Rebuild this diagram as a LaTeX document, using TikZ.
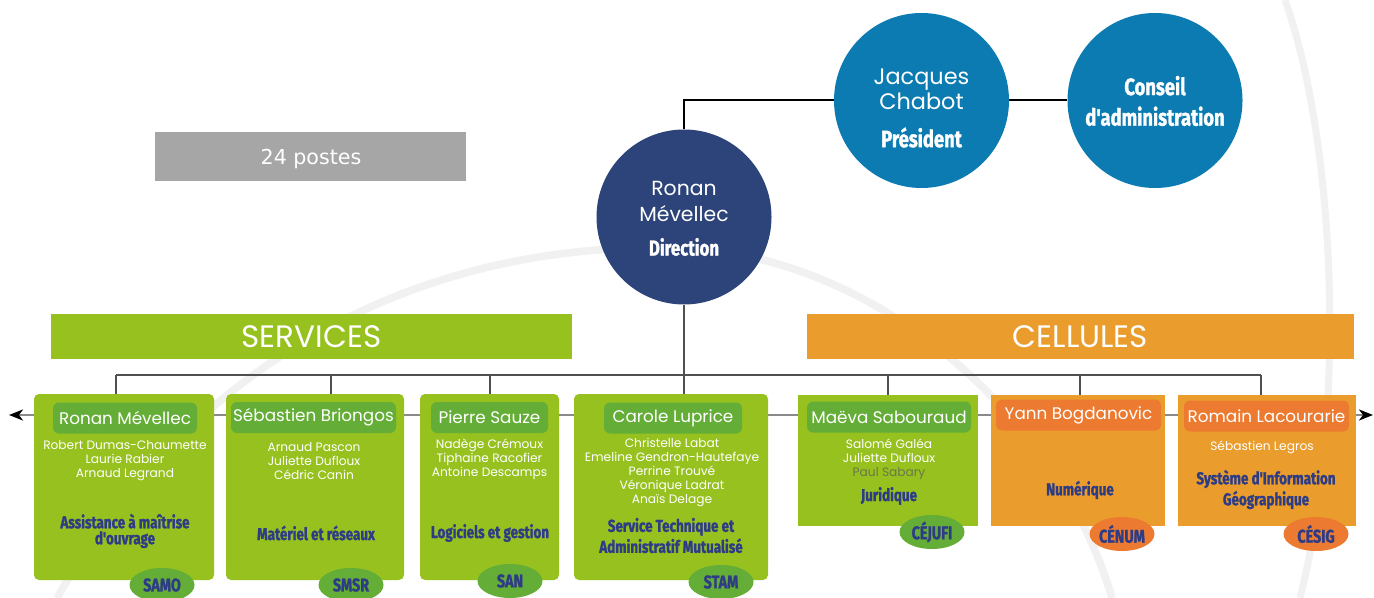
\documentclass[tikz,border=0pt]{standalone}
\usepackage{fontspec}
\setmainfont{Poppins}
\newfontfamily\cond[FakeStretch=0.78, FakeBold=1.3]{Fira Sans}
\newfontfamily\verd{DejaVu Sans}
\usetikzlibrary{shapes.geometric,arrows.meta,backgrounds}
\definecolor{cgreen}{HTML}{96C11F}
\definecolor{cdgreen}{HTML}{64AE37}
\definecolor{corange}{HTML}{EA9D2C}
\definecolor{cdorange}{HTML}{EC7B31}
\definecolor{cnavy}{HTML}{2E3C86}
\definecolor{cdir}{HTML}{2C4479}
\definecolor{cblue}{HTML}{0C7BB1}
\definecolor{cgray}{HTML}{A6A6A6}
\definecolor{cwm}{HTML}{F1F1F1}
\definecolor{cpaul}{HTML}{6A7848}
\definecolor{cbus}{HTML}{505050}
\definecolor{crow}{HTML}{8A8A8A}
\begin{document}
\begin{tikzpicture}[x=0.5pt,y=-0.5pt,
  svc/.style={fill=cgreen, rounded corners=2.5pt, inner sep=0, minimum height=93pt},
  cellbox/.style={inner sep=0, minimum height=65.5pt},
  hdr/.style={rounded corners=3pt, inner sep=0, minimum height=15.5pt, text=white, font=\fontsize{8.4}{10}\selectfont},
  ppl/.style={text=white, align=center, font=\fontsize{6.1}{7}\selectfont, inner sep=0},
  lab/.style={text=cnavy, align=center, font=\cond\bfseries\fontsize{8.6}{8}\selectfont, inner sep=0},
  labw/.style={text=cnavy, align=center, font=\cond\bfseries\fontsize{8.6}{10.5}\selectfont, inner sep=0},
  tag/.style={ellipse, inner sep=0, minimum width=32.5pt, minimum height=17pt, text=cnavy, font=\cond\bfseries\fontsize{9.2}{9}\selectfont},
  bubble/.style={circle, inner sep=0, minimum size=87.5pt},
  bname/.style={text=white, align=center, inner sep=0},
  brole/.style={text=white, align=center, inner sep=0, font=\cond\bfseries\fontsize{11.8}{15.3}\selectfont},
  banner/.style={inner sep=0, minimum height=22.5pt, text=white, font=\fontsize{15.5}{17}\selectfont},
  conn/.style={black, line width=1pt},
  bus/.style={cbus, line width=1pt},
  rowline/.style={crow, line width=1pt},
  tip/.style={-{Stealth[length=7pt, width=5.5pt, inset=2pt, black]}}
]
\useasboundingbox (0,0) rectangle (1374,598);
\begin{scope}[on background layer]
  \fill[white] (0,0) rectangle (1374,598);
  \draw[cwm, line width=3.8pt] (57,598) .. controls (180,380) and (400,240) .. (680,248) .. controls (880,255) and (1060,420) .. (1112,598);
  \draw[cwm, line width=3.5pt] (1285,0) .. controls (1338,150) and (1345,420) .. (1300,598);
\end{scope}

% top
\node[fill=cgray, minimum width=155.5pt, minimum height=24.5pt, inner sep=0] (postes) at (310.5,156.5) {};
\node[text=white, inner sep=0, font=\verd\fontsize{10.3}{12}\selectfont] (postesT) at (311,159.5) {24 postes};

\node[bubble, fill=cdir] (dir) at (684,217) {};
\node[bname, font=\fontsize{10.2}{13}\selectfont] (dirN) at (684,201) {Ronan\\Mévellec};
\node[brole, font=\cond\bfseries\fontsize{10.8}{11}\selectfont] (dirR) at (684,247) {Direction};

\node[bubble, fill=cblue] (jc) at (921.5,100.5) {};
\node[bname, font=\fontsize{11.2}{12.5}\selectfont] (jcN) at (921.5,89) {Jacques\\Chabot};
\node[brole] (jcR) at (921.5,137.5) {Président};

\node[bubble, fill=cblue] (ca) at (1155,100.5) {};
\node[brole] (caR) at (1155,101) {Conseil\\d'administration};

% banners
\node[banner, fill=cgreen, minimum width=260.5pt] (serv) at (311.5,336.5) {SERVICES};
\node[banner, fill=corange, minimum width=273.5pt] (cellu) at (1080.5,336.5) {CELLULES};

% services
\node[svc, minimum width=90pt] (b1) at (124,487) {};
\node[hdr, fill=cdgreen, minimum width=72pt] (h1) at (125,418) {Ronan Mévellec};
\node[ppl] (p1) at (125,460.5) {Robert Dumas-Chaumette\\Laurie Rabier\\Arnaud Legrand};
\node[lab] (l1) at (125,531) {Assistance à maîtrise\\d'ouvrage};
\node[tag, fill=cdgreen] (t1) at (162,585) {SAMO};

\node[svc, minimum width=89pt] (b2) at (315,487) {};
\node[hdr, fill=cdgreen, minimum width=82.5pt] (h2) at (313.5,417.5) {Sébastien Briongos};
\node[ppl] (p2) at (314,461.5) {Arnaud Pascon\\Juliette Dufloux\\Cédric Canin};
\node[lab] (l2) at (316,533) {Matériel et réseaux};
\node[tag, fill=cdgreen] (t2) at (351,585) {SMSR};

\node[svc, minimum width=69.5pt] (b3) at (489.5,487) {};
\node[hdr, fill=cdgreen, minimum width=58.5pt] (h3) at (489.5,417.5) {Pierre Sauze};
\node[ppl] (p3) at (489.5,459) {Nadège Crémoux\\Tiphaine Racofier\\Antoine Descamps};
\node[lab] (l3) at (490,533) {Logiciels et gestion};
\node[tag, fill=cdgreen] (t3) at (510,581) {SAN};

\node[svc, minimum width=97pt] (b4) at (671,487) {};
\node[hdr, fill=cdgreen, minimum width=69pt] (h4) at (673,418) {Carole Luprice};
\node[ppl] (p4) at (672,473) {Christelle Labat\\Emeline Gendron-Hautefaye\\Perrine Trouvé\\Véronique Ladrat\\Anaïs Delage};
\node[labw] (l4) at (671,535.5) {Service Technique et\\Administratif Mutualisé};
\node[tag, fill=cdgreen] (t4) at (721,582) {STAM};

% cellules
\node[cellbox, fill=cgreen, minimum width=90pt] (b5) at (888,460.5) {};
\node[hdr, fill=cdgreen, minimum width=82pt] (h5) at (889,417) {Maëva Sabouraud};
\node[ppl] (p5) at (889,459.5) {Salomé Galéa\\Juliette Dufloux\\\textcolor{cpaul}{Paul Sabary}};
\node[lab] (l5) at (889,496) {Juridique};
\node[tag, fill=cdgreen] (t5) at (932,532) {CÉJUFI};

\node[cellbox, fill=corange, minimum width=87pt] (b6) at (1078,460.5) {};
\node[hdr, fill=cdorange, minimum width=82.5pt] (h6) at (1078.5,415) {Yann Bogdanovic};
\node[lab] (l6) at (1080,490) {Numérique};
\node[tag, fill=cdorange] (t6) at (1122,534) {CÉNUM};

\node[cellbox, fill=corange, minimum width=89pt] (b7) at (1267,460.5) {};
\node[hdr, fill=cdorange, minimum width=82.5pt] (h7) at (1266.5,416) {Romain Lacourarie};
\node[ppl] (p7) at (1262,447) {Sébastien Legros};
\node[labw] (l7) at (1266,489.5) {Système d'Information\\Géographique};
\node[tag, fill=cdorange] (t7) at (1316,534) {CÉSIG};

% connectors
\begin{scope}[on background layer]
  \draw[conn] (jc.west) -| (dir.north);
  \draw[conn] (jc.east) -- (ca.west);
  \coordinate (busL) at (116,375);
  \coordinate (busR) at (1261,375);
  \draw[bus] (dir.south) -- (dir.south |- b4.north);
  \draw[bus] (busL) -- (busR);
  \foreach \x/\b in {116/b1, 331/b2, 490/b3, 888/b5, 1080/b6, 1261/b7} {
    \coordinate (dropTop) at (\x,375);
    \draw[bus] (dropTop) -- (dropTop |- \b.north);
  }
  \coordinate (arrL) at (9,415);
  \coordinate (arrR) at (1373,415);
  \draw[rowline] (b1.west |- arrL) -- (b7.east |- arrR);
  \draw[rowline, tip] (b1.west |- arrL) -- (arrL);
  \draw[rowline, tip] (b7.east |- arrR) -- (arrR);
\end{scope}
\end{tikzpicture}
\end{document}
